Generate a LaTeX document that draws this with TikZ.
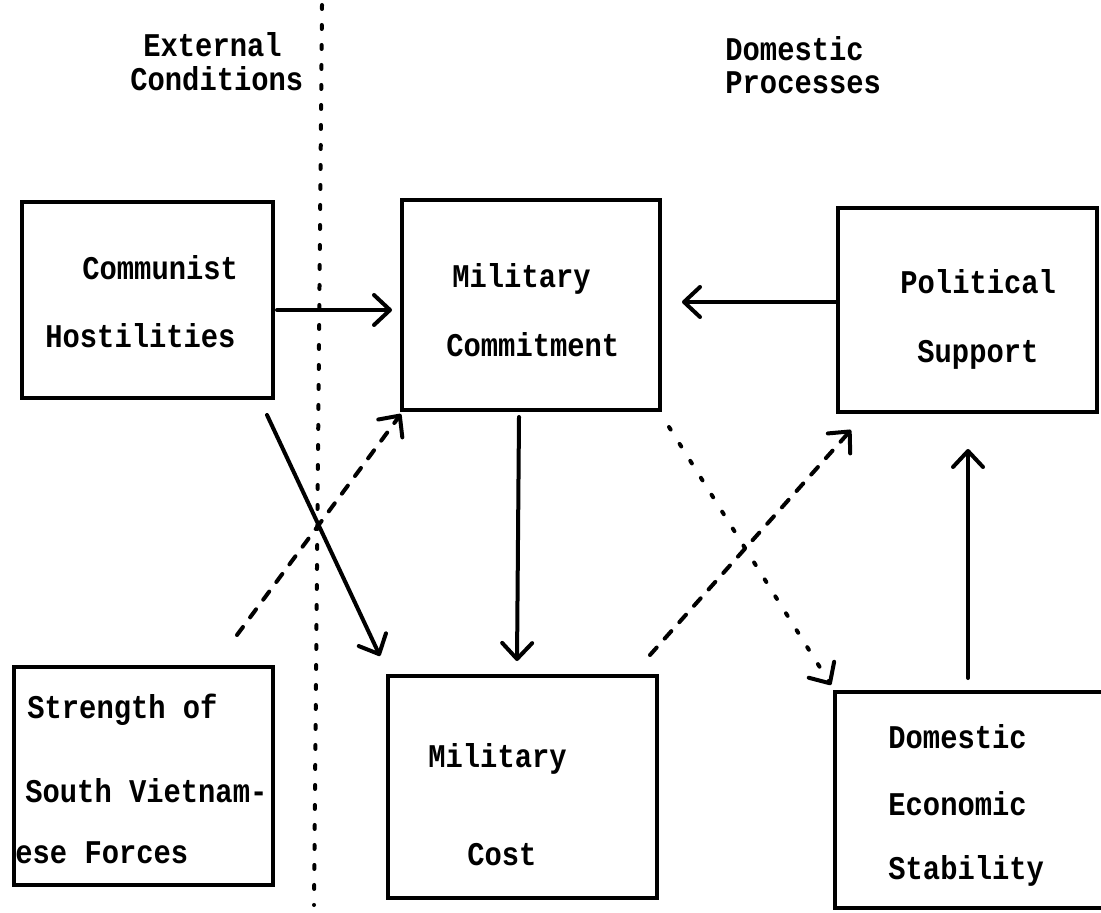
\documentclass[tikz,border=0pt]{standalone}
\usepackage{graphicx}
\usepackage{fontspec}
\setmonofont{Liberation Mono}
\usetikzlibrary{arrows.meta,calc,fit}
\newcommand{\tw}[1]{\scalebox{1}[1.15]{#1}}
\begin{document}
\begin{tikzpicture}[x=0.5pt,y=-0.5pt,
  box/.style={draw, line width=2pt, inner sep=0pt},
  lbl/.style={anchor=base west, inner sep=0pt, font=\ttfamily\bfseries\fontsize{14.4pt}{17pt}\selectfont},
  tip/.style={-{Straight Barb[length=8pt,width=15pt,round]}},
  solidarrow/.style={line width=2pt, line cap=round, tip},
  dashedarrow/.style={line width=2pt, line cap=round, dash pattern=on 5pt off 6pt, tip},
  dottedarrow/.style={line width=2pt, line cap=round, dash pattern=on 1.5pt off 8.5pt, tip},
  divider/.style={line width=2pt, line cap=round, dash pattern=on 2pt off 8pt}]
\useasboundingbox (0,0) rectangle (1101,913);
\fill[white] (0,0) rectangle (1101,913);

% boxes
\node[box, fit={(22,202) (273,398)}] (ch) {};
\node[box, fit={(402,200) (660,410)}] (mc) {};
\node[box, fit={(838,208) (1097,412)}] (ps) {};
\node[box, fit={(14,667) (273,885)}] (sv) {};
\node[box, fit={(388,676) (657,898)}] (cost) {};
\node[box, fit={(835,692) (1120,908)}] (des) {};

% headers
\node[lbl] (h1) at (143,57) {\tw{External}};
\node[lbl] (h2) at (130,91) {\tw{Conditions}};
\node[lbl] (h3) at (725,61) {\tw{Domestic}};
\node[lbl] (h4) at (725,94) {\tw{Processes}};

% box texts
\node[lbl] (t1) at (82,280) {\tw{Communist}};
\node[lbl] (t2) at (45,348) {\tw{Hostilities}};
\node[lbl] (t3) at (452,288) {\tw{Military}};
\node[lbl] (t4) at (446,357) {\tw{Commitment}};
\node[lbl] (t5) at (900,294) {\tw{Political}};
\node[lbl] (t6) at (917,363) {\tw{Support}};
\node[lbl] (t7) at (27,718) {\tw{Strength of}};
\node[lbl] (t8) at (25,802) {\tw{South Vietnam-}};
\node[lbl] (t9) at (15,863) {\tw{ese Forces}};
\node[lbl] (t10) at (428,767) {\tw{Military}};
\node[lbl] (t11) at (467,865) {\tw{Cost}};
\node[lbl] (t12) at (888,748) {\tw{Domestic}};
\node[lbl] (t13) at (888,815) {\tw{Economic}};
\node[lbl] (t14) at (888,879) {\tw{Stability}};

% divider
\coordinate (vt) at (322,5);
\coordinate (vb) at (314,905);
\draw[divider] (vt) -- (vb);

% connectors
\draw[solidarrow] ($(ch.east)+(2,10)$) -- ($(mc.west)+(-8,5)$);
\draw[solidarrow] ($(ch.south east)+(-8,15)$) -- ($(cost.north west)+(-6,-18)$);
\draw[dashedarrow] ($(sv.north east)+(-38,-30)$) -- ($(mc.south west)+(1,2)$);
\draw[solidarrow] ($(mc.south)+(-12,5)$) -- ($(cost.north)+(-5.5,-13)$);
\draw[solidarrow] ($(ps.west)+(0,-8)$) -- ($(mc.east)+(20,-3)$);
\draw[dashedarrow] ($(cost.north east)+(-9,-19)$) -- ($(ps.south west)+(15,16)$);
\draw[dottedarrow] ($(mc.south east)+(7,15)$) -- ($(des.north west)+(-2,-5)$);
\draw[solidarrow] ($(des.north)+(-9.5,-12)$) -- ($(ps.south)+(0.5,35)$);
\end{tikzpicture}
\end{document}
